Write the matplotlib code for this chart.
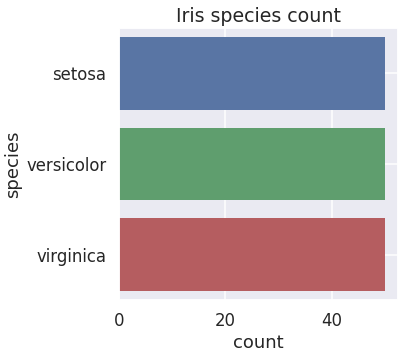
import matplotlib
matplotlib.use("Agg")
import matplotlib.pyplot as plt
import seaborn as sns

species = ["setosa", "versicolor", "virginica"]
counts = [50, 50, 50]
bar_colors = ["#5975a4", "#5f9e6e", "#b55d60"]

sns.set_theme(context="talk", style="darkgrid")

fig = plt.figure(figsize=(404 / 72, 355 / 72), dpi=72)
ax = fig.add_axes([119 / 404, 1 - 300 / 355, 279 / 404, 272 / 355])

ax.barh(species, counts, height=0.8, color=bar_colors, linewidth=0)
ax.set_ylim(2.5, -0.5)
ax.set_xlim(0, 52.5)
ax.set_xticks([0, 20, 40])
ax.set_xlabel("count")
ax.set_ylabel("species")
ax.set_title("Iris species count", fontsize=19)

fig.savefig("out.png", dpi=72)
